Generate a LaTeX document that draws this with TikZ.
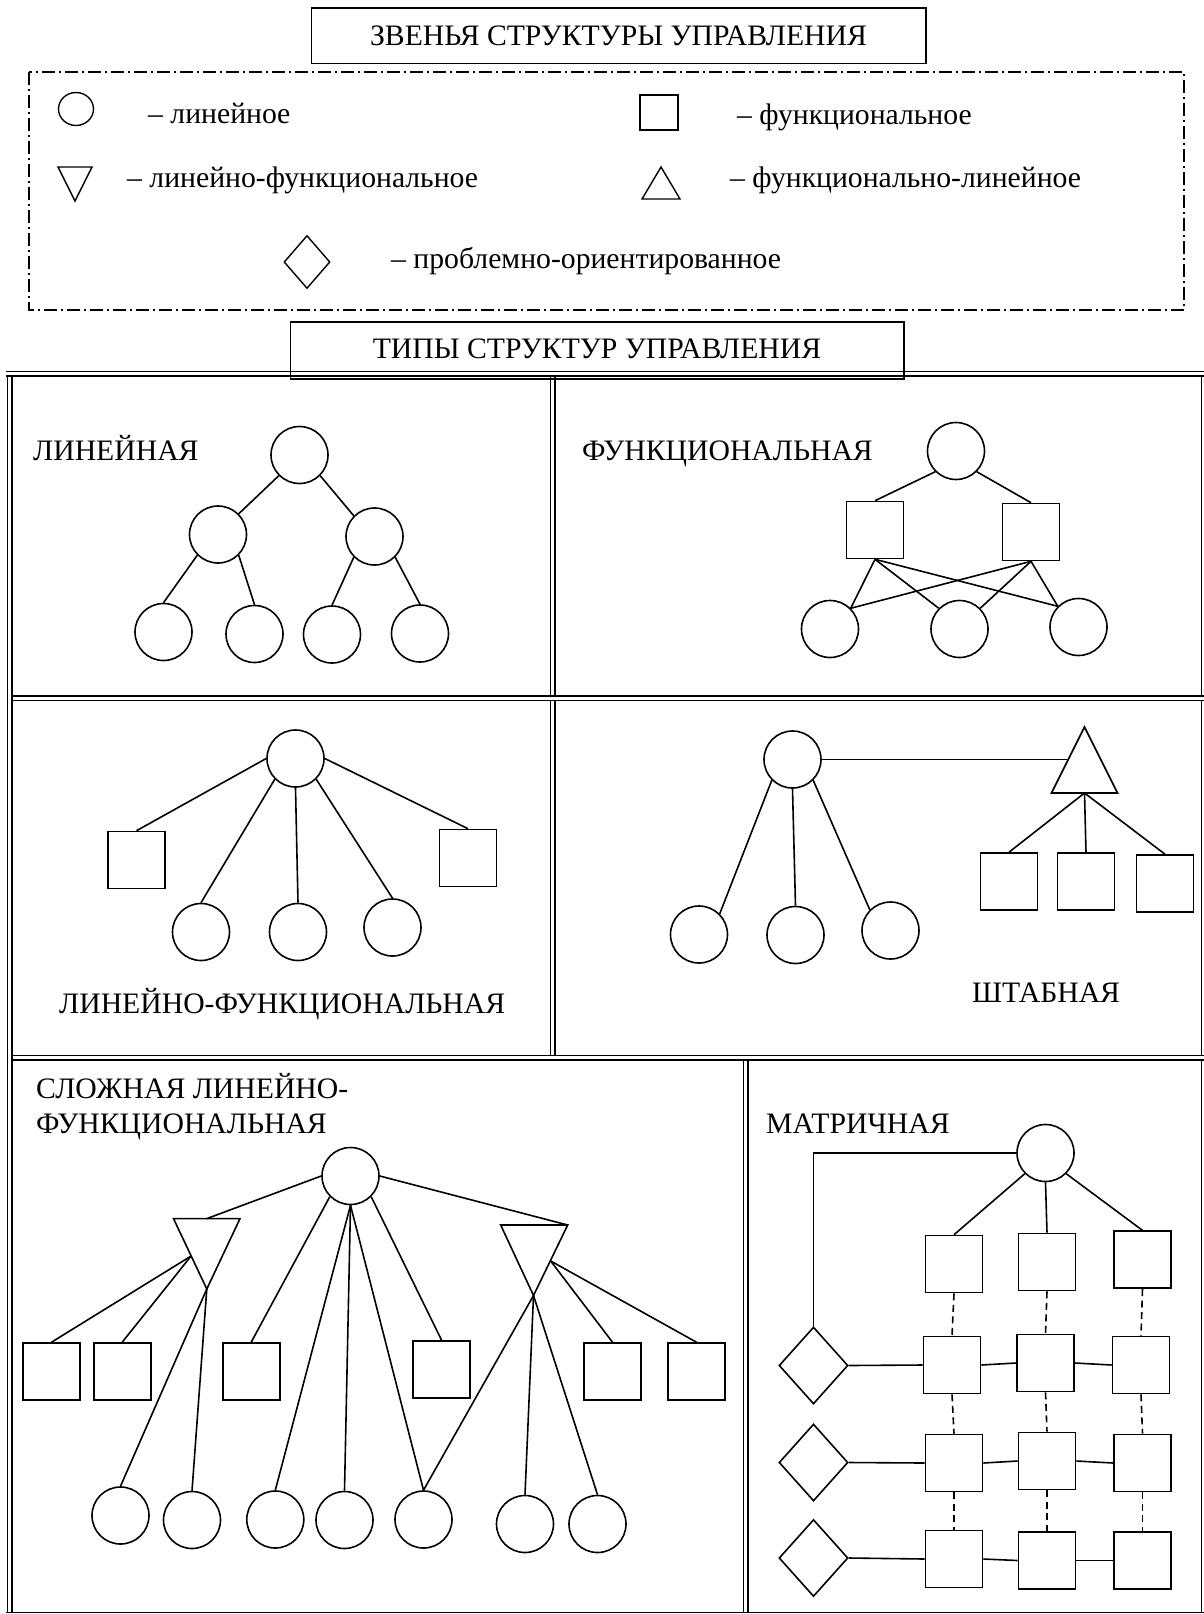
\documentclass[tikz,border=0pt]{standalone}
\usepackage{fontspec}
\setmainfont{Liberation Serif}
\usetikzlibrary{shapes.geometric}
\begin{document}
\begin{tikzpicture}[x=1pt,y=-1pt,
  every node/.style={font=\fontsize{29.7}{34}\selectfont},
  ln/.style={line width=1.6pt},
  lk/.style={draw, circle, minimum size=57pt, inner sep=0pt, line width=1.6pt},
  fn/.style={draw, rectangle, minimum width=57pt, minimum height=57pt, inner sep=0pt, line width=1.6pt},
  pr/.style={draw, diamond, minimum width=69pt, minimum height=77pt, inner sep=0pt, line width=1.6pt},
  tri/.style={draw, line width=1.6pt, line join=miter},
  frame/.style={double, line width=1.5pt, double distance=3pt},
  lbl/.style={anchor=base west, inner sep=0pt},
  ctr/.style={anchor=base, inner sep=0pt},
  dsh/.style={line width=1.6pt, dash pattern=on 7pt off 4.5pt},
  tbox/.style={draw, line width=1.6pt, inner sep=0pt},
]
\useasboundingbox (0,0) rectangle (1203,1614);

% ---------- header ----------
\node[tbox, minimum width=614.5pt, minimum height=55.5pt] (t1box) at (618.75,35.75) {};
\node[ctr] (t1) at (618.5,45) {ЗВЕНЬЯ СТРУКТУРЫ УПРАВЛЕНИЯ};

\draw[line width=1.3pt, dash pattern=on 13pt off 4pt on 2pt off 4pt] (29,72) rectangle (1184,310);

\node[draw, ellipse, minimum width=35pt, minimum height=33pt, inner sep=0pt, line width=1.4pt] (g1) at (76,109) {};
\node[lbl] (g1t) at (148,123) {– линейное};
\node[draw, rectangle, minimum width=38pt, minimum height=35pt, inner sep=0pt, line width=1.4pt] (g2) at (659,112.5) {};
\node[lbl] (g2t) at (737,124) {– функциональное};
\draw[tri, line width=1.4pt] (58,167) -- (92,167) -- (75,201) -- cycle;
\node[lbl] (g3t) at (127,187) {– линейно-функциональное};
\draw[tri, line width=1.4pt] (642,199) -- (680,199) -- (661,167) -- cycle;
\node[lbl] (g4t) at (730,187) {– функционально-линейное};
\node[draw, diamond, minimum width=46pt, minimum height=53pt, inner sep=0pt, line width=1.4pt] (g5) at (307,262) {};
\node[lbl] (g5t) at (391,268) {– проблемно-ориентированное};

% ---------- table frame ----------
\draw[frame] (9.5,373.5) -- (9.5,1620);
\draw[frame] (552.5,373.5) -- (552.5,1057.5);
\draw[frame] (745.5,1057.5) -- (745.5,1620);
\draw[frame] (1203.5,373.5) -- (1203.5,1620);
\draw[frame] (12.5,698.3) -- (1210,698.3);
\draw[frame] (12.5,1057.5) -- (1210,1057.5);
\draw[frame] (6,1614.5) -- (1210,1614.5);
\draw[frame] (6,373.5) -- (1210,373.5);

\node[tbox, minimum width=613.5pt, minimum height=57pt] (t2box) at (597.25,350.5) {};
\node[ctr] (t2) at (597,358.5) {ТИПЫ СТРУКТУР УПРАВЛЕНИЯ};

% ---------- ЛИНЕЙНАЯ ----------
\node[lbl] (labL) at (33,460) {ЛИНЕЙНАЯ};
\node[lk] (L0) at (299.5,455) {};
\node[lk] (L1) at (218,534.5) {};
\node[lk] (L2) at (374.5,536.5) {};
\node[lk] (L3) at (163.5,632) {};
\node[lk] (L4) at (254.5,634) {};
\node[lk] (L5) at (332,634.5) {};
\node[lk] (L6) at (420,633.5) {};
\draw[ln] (L0.south west) -- (L1.north east);
\draw[ln] (L0.south east) -- (L2.north west);
\draw[ln] (L1.south west) -- (L3.north);
\draw[ln] (L1.south east) -- (L4.north);
\draw[ln] (L2.south west) -- (L5.north);
\draw[ln] (L2.south east) -- (L6.north);

% ---------- ФУНКЦИОНАЛЬНАЯ ----------
\node[lbl] (labF) at (582,460) {ФУНКЦИОНАЛЬНАЯ};
\node[lk] (F0) at (956,451) {};
\node[fn] (FA) at (875,530) {};
\node[fn] (FB) at (1031,532) {};
\node[lk] (FC1) at (830,629) {};
\node[lk] (FC2) at (959.5,629) {};
\node[lk] (FC3) at (1078.5,627) {};
\draw[ln] (F0.south west) -- (FA.north);
\draw[ln] (F0.south east) -- (FB.north);
\draw[ln] (FA.south) -- (FC1.north east);
\draw[ln] (FA.south) -- (FC2.north west);
\draw[ln] (FA.south) -- (FC3.north west);
\draw[ln] (FB.south) -- (FC1.north east);
\draw[ln] (FB.south) -- (FC2.north east);
\draw[ln] (FB.south) -- (FC3.north west);

% ---------- ЛИНЕЙНО-ФУНКЦИОНАЛЬНАЯ ----------
\node[lbl] (labLF) at (59,1013) {ЛИНЕЙНО-ФУНКЦИОНАЛЬНАЯ};
\node[lk] (P0) at (295.5,758.5) {};
\node[fn] (PS1) at (136.5,860) {};
\node[fn] (PS2) at (468,858) {};
\node[lk] (PC1) at (201,932) {};
\node[lk] (PC2) at (298,932) {};
\node[lk] (PC3) at (392.5,927.5) {};
\draw[ln] (P0.west) -- (PS1.north);
\draw[ln] (P0.east) -- (PS2.north);
\draw[ln] (P0.south west) -- (PC1.north);
\draw[ln] (P0.south) -- (PC2.north);
\draw[ln] (P0.south east) -- (PC3.north);

% ---------- ШТАБНАЯ ----------
\node[lbl] (labS) at (972,1002) {ШТАБНАЯ};
\node[lk] (S0) at (792.5,759.5) {};
\coordinate (STa) at (1051.5,793);
\coordinate (STb) at (1117.5,793);
\coordinate (STc) at (1084.5,727);
\coordinate (STbase) at (1084.5,793);
\coordinate (STside) at (1068.3,759.5);
\draw[tri] (STa) -- (STb) -- (STc) -- cycle;
\node[fn] (SS1) at (1009,881.5) {};
\node[fn] (SS2) at (1086,881.5) {};
\node[fn] (SS3) at (1165,883.5) {};
\node[lk] (SC1) at (699,934.5) {};
\node[lk] (SC2) at (795.5,935) {};
\node[lk] (SC3) at (890.5,930.5) {};
\draw[ln] (S0.east) -- (STside);
\draw[ln] (STbase) -- (SS1.north);
\draw[ln] (STbase) -- (SS2.north);
\draw[ln] (STbase) -- (SS3.north);
\draw[ln] (S0.south west) -- (SC1.north east);
\draw[ln] (S0.south) -- (SC2.north);
\draw[ln] (S0.south east) -- (SC3.north west);

% ---------- СЛОЖНАЯ ЛИНЕЙНО-ФУНКЦИОНАЛЬНАЯ ----------
\node[lbl] (labC1) at (36,1098.6) {СЛОЖНАЯ ЛИНЕЙНО-};
\node[lbl] (labC2) at (36,1133) {ФУНКЦИОНАЛЬНАЯ};
\node[lk] (C0) at (350.5,1176) {};
\coordinate (LTa) at (173.5,1218.6);
\coordinate (LTb) at (240,1218.6);
\coordinate (LTc) at (206.8,1289);
\coordinate (LTtop) at (206.8,1218.6);
\coordinate (LTside) at (191.1,1256);
\draw[tri] (LTa) -- (LTb) -- (LTc) -- cycle;
\coordinate (RTa) at (500.7,1225);
\coordinate (RTb) at (567.7,1225);
\coordinate (RTc) at (533.5,1295.5);
\coordinate (RTside) at (550.7,1261);
\draw[tri] (RTa) -- (RTb) -- (RTc) -- cycle;
\node[fn] (K1) at (51.5,1371.5) {};
\node[fn] (K2) at (122.2,1371.5) {};
\node[fn] (K3) at (251.2,1371.5) {};
\node[fn] (K4) at (441.5,1369.3) {};
\node[fn] (K5) at (612.5,1371.5) {};
\node[fn] (K6) at (696.5,1371.5) {};
\node[lk] (KC1) at (120.5,1515.5) {};
\node[lk] (KC2) at (192,1520) {};
\node[lk] (KC3) at (275.3,1519.5) {};
\node[lk] (KC4) at (344.5,1520) {};
\node[lk] (KC5) at (423.5,1519.5) {};
\node[lk] (KC6) at (525,1524) {};
\node[lk] (KC7) at (597.5,1524) {};
\draw[ln] (C0.west) -- (LTtop);
\draw[ln] (C0.east) -- (RTb);
\draw[ln] (C0.south west) -- (K3.north);
\draw[ln] (C0.south east) -- (K4.north);
\draw[ln] (C0.south) -- (KC3.north);
\draw[ln] (C0.south) -- (KC4.north);
\draw[ln] (C0.south) -- (KC5.north);
\draw[ln] (LTside) -- (K1.north);
\draw[ln] (LTside) -- (K2.north);
\draw[ln] (LTc) -- (KC1.north);
\draw[ln] (LTc) -- (KC2.north);
\draw[ln] (RTside) -- (K5.north);
\draw[ln] (RTside) -- (K6.north);
\draw[ln] (RTc) -- (KC5.north);
\draw[ln] (RTc) -- (KC6.north);
\draw[ln] (RTc) -- (KC7.north);

% ---------- МАТРИЧНАЯ ----------
\node[lbl] (labM) at (766,1133) {МАТРИЧНАЯ};
\node[lk] (M0) at (1045.5,1153) {};
\node[pr] (D1) at (813.5,1365.5) {};
\node[pr] (D2) at (813.5,1462.5) {};
\node[pr] (D3) at (813.5,1558) {};
\node[fn] (Q01) at (954,1264) {};
\node[fn] (Q02) at (1047,1262) {};
\node[fn] (Q03) at (1142.5,1259.7) {};
\node[fn] (Q11) at (952,1365) {};
\node[fn] (Q12) at (1045.5,1363) {};
\node[fn] (Q13) at (1141,1365) {};
\node[fn] (Q21) at (954,1463) {};
\node[fn] (Q22) at (1047,1461) {};
\node[fn] (Q23) at (1142.5,1463) {};
\node[fn] (Q31) at (954,1559) {};
\node[fn] (Q32) at (1047,1560.5) {};
\node[fn] (Q33) at (1142.5,1560.5) {};
\draw[ln] (D1.north) |- (M0.west);
\draw[ln] (M0.south west) -- (Q01.north);
\draw[ln] (M0.south) -- (Q02.north);
\draw[ln] (M0.south east) -- (Q03.north);
\draw[ln] (D1.east) -- (Q11.west);
\draw[ln] (Q11.east) -- (Q12.west);
\draw[ln] (Q12.east) -- (Q13.west);
\draw[ln] (D2.east) -- (Q21.west);
\draw[ln] (Q21.east) -- (Q22.west);
\draw[ln] (Q22.east) -- (Q23.west);
\draw[ln] (D3.east) -- (Q31.west);
\draw[ln] (Q31.east) -- (Q32.west);
\draw[ln] (Q32.east) -- (Q33.west);
\draw[dsh] (Q01.south) -- (Q11.north);
\draw[dsh] (Q11.south) -- (Q21.north);
\draw[dsh] (Q21.south) -- (Q31.north);
\draw[dsh] (Q02.south) -- (Q12.north);
\draw[dsh] (Q12.south) -- (Q22.north);
\draw[dsh] (Q22.south) -- (Q32.north);
\draw[dsh] (Q03.south) -- (Q13.north);
\draw[dsh] (Q13.south) -- (Q23.north);
\draw[dsh] (Q23.south) -- (Q33.north);
\end{tikzpicture}
\end{document}
